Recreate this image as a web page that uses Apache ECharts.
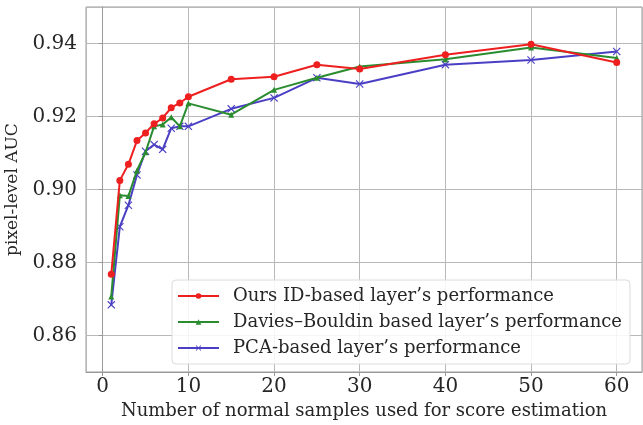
<!DOCTYPE html>
<html>
<head>
<meta charset="utf-8">
<script src="https://cdn.jsdelivr.net/npm/echarts@6/dist/echarts.min.js"></script>
<style>
  html, body { margin: 0; padding: 0; background: #ffffff; }
  #chart { width: 643px; height: 425px; }
</style>
</head>
<body>
<div id="chart"></div>
<script>
// Number of normal samples used to estimate the score
const samples = [1, 2, 3, 4, 5, 6, 7, 8, 9, 10, 15, 20, 25, 30, 40, 50, 60];

// Pixel-level AUC for each layer-selection strategy
const oursID = [0.8768, 0.9025, 0.9069, 0.9134, 0.9155, 0.9180, 0.9196, 0.9224, 0.9237, 0.9254,
                0.9302, 0.9309, 0.9342, 0.9330, 0.9369, 0.9398, 0.9348];
const daviesBouldin = [0.8707, 0.8984, 0.8982, 0.9052, 0.9102, 0.9173, 0.9178, 0.9198, 0.9173, 0.9236,
                       0.9205, 0.9273, 0.9306, 0.9337, 0.9357, 0.9389, 0.9360];
const pcaBased = [0.8684, 0.8898, 0.8957, 0.9040, 0.9105, 0.9123, 0.9110, 0.9168, 0.9173, 0.9173,
                  0.9221, 0.9251, 0.9306, 0.9289, 0.9342, 0.9355, 0.9378];

const seriesNames = [
  "Ours ID-based layer\u2019s performance",
  "Davies\u2013Bouldin based layer\u2019s performance",
  "PCA-based layer\u2019s performance"
];

const FONT = "DejaVu Serif";
const GRID_GREY = "#b8b8b8";
const FRAME_GREY = "#9a9a9a";
const TEXT = "#262626";

const crossSymbol = "path://M1,0L5,4L9,0L10,1L6,5L10,9L9,10L5,6L1,10L0,9L4,5L0,1Z";

function pairs(ys) {
  return samples.map((x, i) => [x, ys[i]]);
}

const chart = echarts.init(document.getElementById("chart"), null, { renderer: "canvas" });

chart.setOption({
  animation: false,
  backgroundColor: "#ffffff",
  grid: {
    left: 86, right: 1, top: 7, bottom: 53,
    outerBoundsMode: "none",
    containLabel: false,
    show: true, borderColor: FRAME_GREY, borderWidth: 1, backgroundColor: "transparent"
  },
  legend: {
    left: 172, top: 280,
    orient: "vertical",
    padding: [7, 8, 7, 5],
    itemWidth: 41, itemHeight: 7, itemGap: 8,
    backgroundColor: "rgba(255,255,255,0.85)",
    borderColor: "#dcdcdc", borderWidth: 1, borderRadius: 4,
    textStyle: { fontFamily: FONT, fontSize: 18, lineHeight: 18, color: TEXT, padding: [0, 0, 0, 9] },
    data: seriesNames
  },
  xAxis: {
    type: "value",
    min: -1.95, max: 62.95,
    splitNumber: 6,
    name: "Number of normal samples used for score estimation",
    nameLocation: "middle",
    nameGap: 30,
    nameTextStyle: { fontFamily: FONT, fontSize: 18, color: TEXT },
    axisLine: { show: true, lineStyle: { color: FRAME_GREY, width: 1 } },
    axisTick: { show: true, length: 4, lineStyle: { color: FRAME_GREY } },
    axisLabel: { fontFamily: FONT, fontSize: 20, color: TEXT, margin: 5, showMinLabel: false, showMaxLabel: false },
    splitLine: { show: true, lineStyle: { color: GRID_GREY, width: 1 } }
  },
  yAxis: {
    type: "value",
    min: 0.85, max: 0.95,
    splitNumber: 5,
    name: "pixel-level AUC",
    nameLocation: "middle",
    nameGap: 62,
    nameTextStyle: { fontFamily: FONT, fontSize: 17, color: TEXT },
    axisLine: { show: true, lineStyle: { color: FRAME_GREY, width: 1 } },
    axisTick: { show: true, length: 4, lineStyle: { color: FRAME_GREY } },
    axisLabel: {
      fontFamily: FONT, fontSize: 20, color: TEXT, margin: 9,
      showMinLabel: false, showMaxLabel: false,
      formatter: v => v.toFixed(2)
    },
    splitLine: { show: true, lineStyle: { color: GRID_GREY, width: 1 } }
  },
  series: [
    {
      name: seriesNames[0], type: "line", data: pairs(oursID),
      color: "#ee1f1f",
      lineStyle: { width: 2 },
      symbol: "circle", symbolSize: 7, showAllSymbol: true, z: 5
    },
    {
      name: seriesNames[1], type: "line", data: pairs(daviesBouldin),
      color: "#2a8c2f",
      lineStyle: { width: 2 },
      symbol: "triangle", symbolSize: 6, showAllSymbol: true, z: 4
    },
    {
      name: seriesNames[2], type: "line", data: pairs(pcaBased),
      color: "#4a3fc4",
      lineStyle: { width: 2 },
      symbol: crossSymbol, symbolSize: 8, showAllSymbol: true, z: 3
    }
  ]
});
</script>
</body>
</html>
